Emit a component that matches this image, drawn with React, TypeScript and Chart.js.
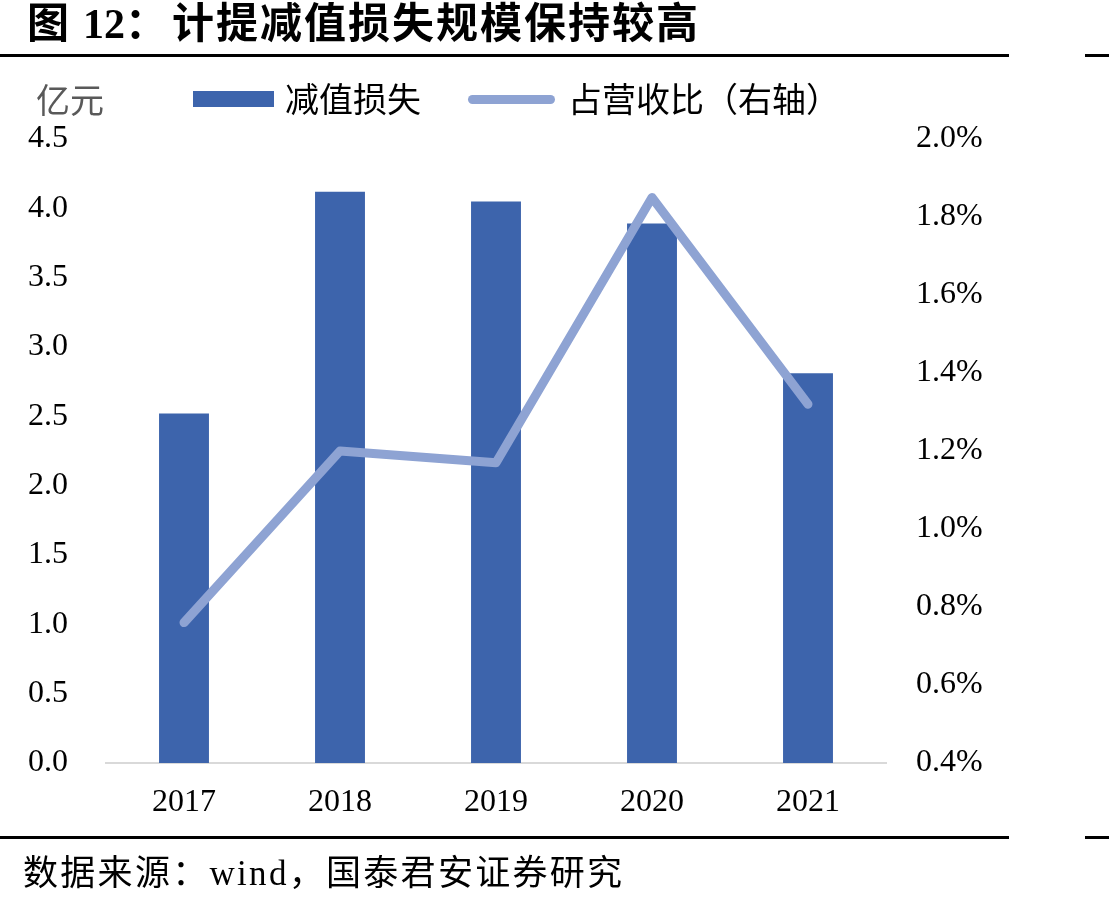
import React, { useEffect, useRef } from "react";
import { Chart, registerables } from "chart.js";

Chart.register(...registerables);

// Data
const years = ["2017", "2018", "2019", "2020", "2021"];
const impairmentLoss = [2.52, 4.12, 4.05, 3.89, 2.81]; // 亿元
const revenueShare = [0.76, 1.2, 1.17, 1.85, 1.32]; // %
const leftTicks = { min: 0, max: 4.5, step: 0.5 };
const rightTicks = { min: 0.4, max: 2.0, step: 0.2 };

const BAR_COLOR = "#3D64AC";
const LINE_COLOR = "#8EA3D3";
const SERIF = '"Liberation Serif", "Times New Roman", "Noto Sans CJK SC", serif';

const W = 1109;
const H = 907;

export default function App() {
  const canvasRef = useRef<HTMLCanvasElement | null>(null);

  useEffect(() => {
    const canvas = canvasRef.current;
    if (!canvas) return;
    const chart = new Chart(canvas, {
      type: "bar",
      data: {
        labels: years,
        datasets: [
          {
            type: "line",
            label: "占营收比（右轴）",
            data: revenueShare,
            yAxisID: "y1",
            borderColor: LINE_COLOR,
            backgroundColor: LINE_COLOR,
            borderWidth: 9,
            borderCapStyle: "round",
            borderJoinStyle: "round",
            pointRadius: 0,
            pointHoverRadius: 0,
            tension: 0,
            order: 0,
          },
          {
            type: "bar",
            label: "减值损失",
            data: impairmentLoss,
            yAxisID: "y",
            backgroundColor: BAR_COLOR,
            borderWidth: 0,
            barPercentage: 0.32,
            categoryPercentage: 1.0,
            order: 1,
          },
        ],
      },
      options: {
        responsive: false,
        animation: false,
        devicePixelRatio: 1,
        layout: { padding: { top: 139, left: 0, right: 0, bottom: 0 } },
        plugins: {
          legend: { display: false },
          title: { display: false },
          tooltip: { enabled: false },
        },
        scales: {
          x: {
            type: "category",
            offset: true,
            grid: { display: false, drawTicks: false, tickLength: 0 },
            border: { display: true, color: "#D9D9D9", width: 2 },
            ticks: {
              color: "#000",
              font: { family: SERIF, size: 32 },
              padding: 20,
              maxRotation: 0,
            },
            afterFit: (s: any) => {
              s.height = H - 763;
            },
          },
          y: {
            position: "left",
            min: leftTicks.min,
            max: leftTicks.max,
            grid: { display: false, drawTicks: false, tickLength: 0 },
            border: { display: false },
            ticks: {
              stepSize: leftTicks.step,
              color: "#000",
              font: { family: SERIF, size: 32 },
              padding: 38,
              callback: (v: any) => Number(v).toFixed(1),
            },
            afterFit: (s: any) => {
              s.width = 106;
            },
          },
          y1: {
            position: "right",
            min: rightTicks.min,
            max: rightTicks.max,
            grid: { display: false, drawTicks: false, tickLength: 0 },
            border: { display: false },
            ticks: {
              stepSize: rightTicks.step,
              color: "#000",
              font: { family: SERIF, size: 32 },
              padding: 30,
              callback: (v: any) => Number(v).toFixed(1) + "%",
            },
            afterFit: (s: any) => {
              s.width = W - 886;
            },
          },
        },
      },
    });
    return () => chart.destroy();
  }, []);

  const abs = (style: React.CSSProperties): React.CSSProperties => ({
    position: "absolute",
    whiteSpace: "nowrap",
    ...style,
  });

  return (
    <div
      style={{
        position: "absolute",
        left: 0,
        top: 0,
        width: W,
        height: H,
        background: "#fff",
        overflow: "hidden",
        fontFamily: SERIF,
      }}
    >
      <canvas
        ref={canvasRef}
        width={W}
        height={H}
        style={{ position: "absolute", left: 0, top: 0, width: W, height: H }}
      />

      {/* Title */}
      <div style={abs({ left: 27, top: 3, fontSize: 42, lineHeight: "42px", fontWeight: "bold", color: "#000" })}>图</div>
      <div style={abs({ left: 83, top: 3, fontSize: 42, lineHeight: "42px", fontWeight: "bold", color: "#000" })}>12：</div>
      <div style={abs({ left: 172, top: 3, fontSize: 42, lineHeight: "42px", fontWeight: "bold", color: "#000", letterSpacing: 2 })}>
        计提减值损失规模保持较高
      </div>

      {/* Rules */}
      <div style={abs({ left: 0, top: 54, width: 1009, height: 3, background: "#000" })} />
      <div style={abs({ left: 1085, top: 54, width: 24, height: 3, background: "#000" })} />
      <div style={abs({ left: 0, top: 836, width: 1009, height: 3, background: "#000" })} />
      <div style={abs({ left: 1085, top: 836, width: 24, height: 3, background: "#000" })} />

      {/* Unit and legend */}
      <div style={abs({ left: 36, top: 85, fontSize: 34, lineHeight: "34px", color: "#595959" })}>亿元</div>
      <div style={abs({ left: 193, top: 91, width: 81, height: 16, background: BAR_COLOR })} />
      <div style={abs({ left: 285, top: 84, fontSize: 34, lineHeight: "34px", color: "#000" })}>减值损失</div>
      <div style={abs({ left: 468, top: 95, width: 87, height: 9, borderRadius: 5, background: LINE_COLOR })} />
      <div style={abs({ left: 568, top: 84, fontSize: 34, lineHeight: "34px", color: "#000" })}>占营收比（右轴）</div>

      {/* Source */}
      <div style={abs({ left: 23, top: 856, fontSize: 35, lineHeight: "35px", color: "#000", letterSpacing: 2.3 })}>
        数据来源：wind，国泰君安证券研究
      </div>
    </div>
  );
}
